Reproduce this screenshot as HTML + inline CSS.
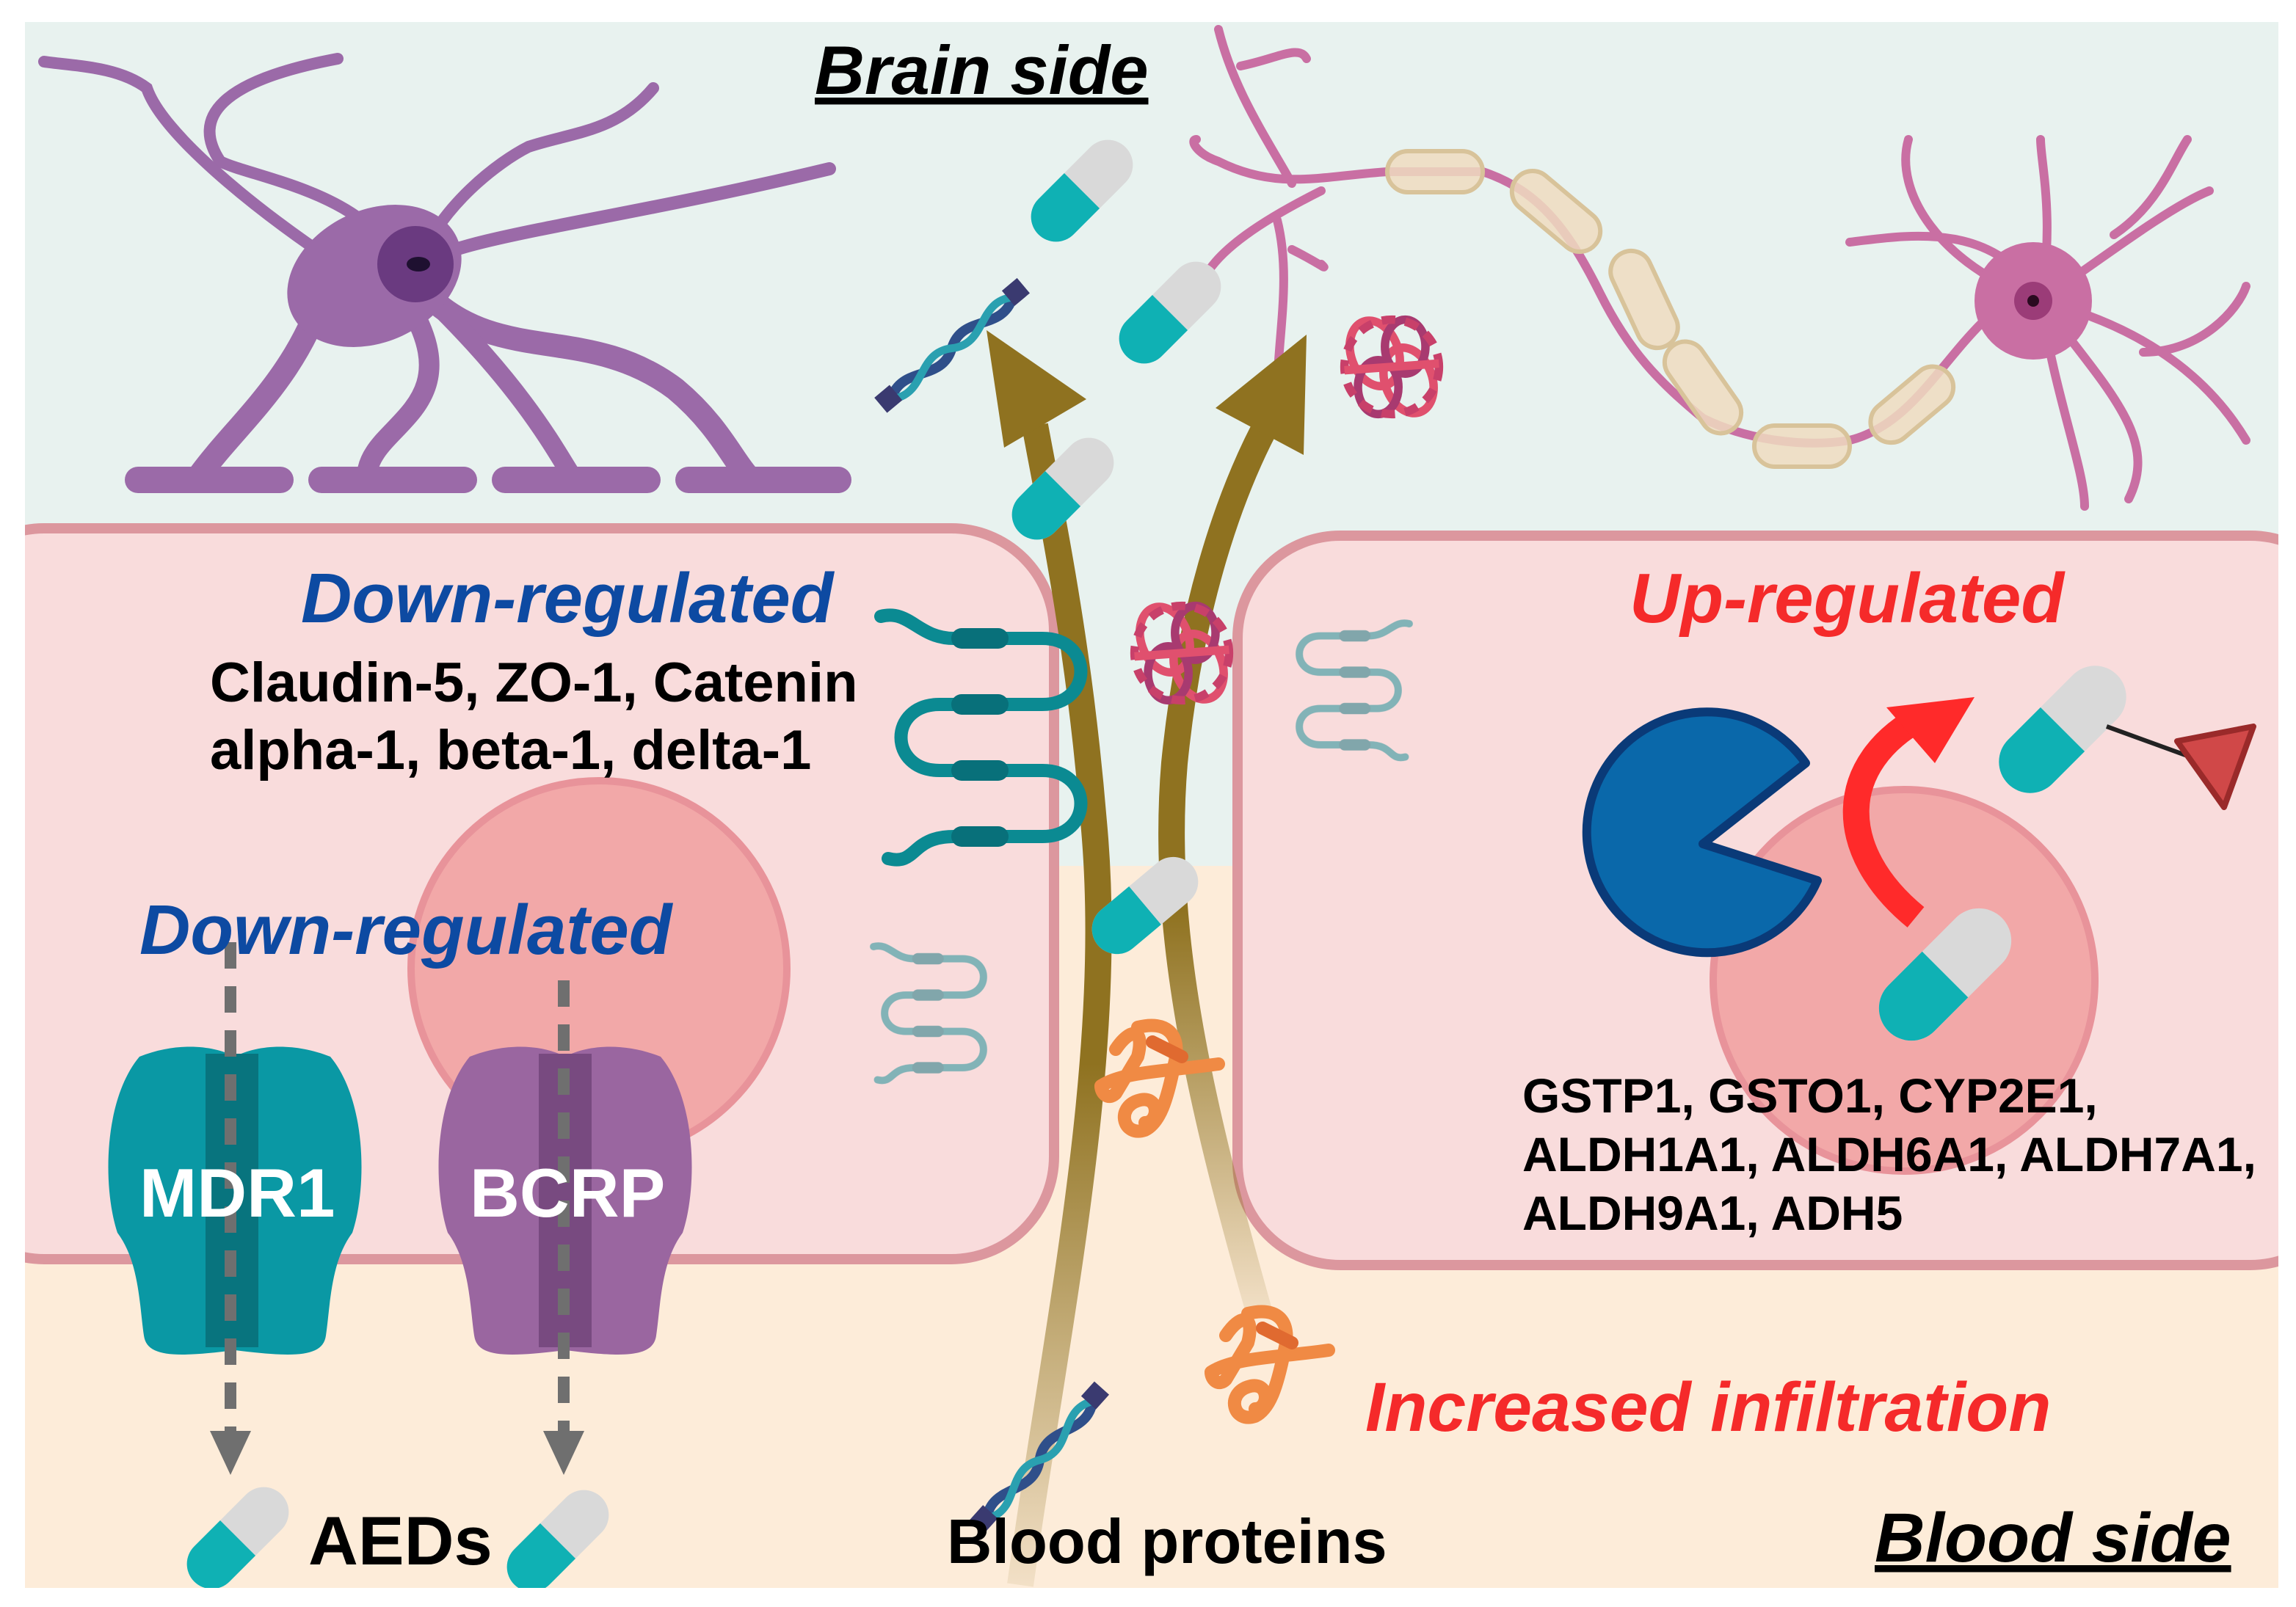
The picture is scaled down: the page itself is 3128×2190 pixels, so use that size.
<!DOCTYPE html>
<html><head><meta charset="utf-8"><style>html,body{margin:0;padding:0;background:#fff}svg{display:block}text{font-family:"Liberation Sans",sans-serif;font-weight:bold}</style></head><body>
<svg width="3128" height="2190" viewBox="0 0 1564 1095" xmlns="http://www.w3.org/2000/svg">
<defs>
<linearGradient id="fade" x1="0" y1="0" x2="0" y2="1"><stop offset="0.55" stop-color="#8f7220"/><stop offset="1" stop-color="#8f7220" stop-opacity="0.1"/></linearGradient>
<g id="pill"><rect x="-42" y="-17" width="84" height="34" rx="17" fill="#d9d9d9"/><path d="M0,-17 H-25 A17,17 0 0 0 -25,17 H0 Z" fill="#0fb1b4"/></g>
<g id="tj" fill="none" stroke="#0b8a92" stroke-width="9" stroke-linecap="round"><path d="M0,0 C20,-5 25,15 50,15 H110 C145,15 145,60 110,60 H40 C5,60 5,105 40,105 H110 C145,105 145,150 110,150 H50 C20,150 25,170 5,165"/><g stroke="#08707a" stroke-width="14"><line x1="55" y1="15" x2="80" y2="15"/><line x1="55" y1="60" x2="80" y2="60"/><line x1="55" y1="105" x2="80" y2="105"/><line x1="55" y1="150" x2="80" y2="150"/></g></g>
<g id="ball" fill="none" stroke-width="5"><ellipse cx="-10" cy="-8" rx="14" ry="20" stroke="#e0506e" transform="rotate(-20 -10 -8)"/><ellipse cx="10" cy="8" rx="14" ry="20" stroke="#e0506e" transform="rotate(-20 10 8)"/><ellipse cx="8" cy="-12" rx="12" ry="16" stroke="#a83a70"/><ellipse cx="-8" cy="12" rx="12" ry="16" stroke="#a83a70"/><circle r="28" stroke="#c8406a" stroke-dasharray="8,6"/><line x1="-28" y1="2" x2="28" y2="-2" stroke="#e0506e"/></g>
<g id="tangle" fill="none" stroke="#f08a44" stroke-width="9" stroke-linecap="round" stroke-linejoin="round"><path d="M-10,-35 C10,-40 20,-30 15,-10 C10,15 5,30 -5,35 C-20,40 -25,20 -10,15 C5,10 5,30 -5,30"/><path d="M-35,5 C-20,-5 10,-5 45,-10"/><path d="M-25,-20 C-15,-35 -5,-35 -10,-15 L-25,10 C-30,15 -35,10 -35,5"/><path d="M0,-25 L20,-15" stroke="#e06a30"/></g>
<g id="dna" fill="none" stroke-linecap="round"><path d="M0,0 C15,-10 25,10 40,0 C55,-10 65,10 80,0" stroke="#2f4f8a" stroke-width="5"/><path d="M0,0 C15,10 25,-10 40,0 C55,10 65,-10 80,0" stroke="#2aa0b0" stroke-width="4"/><rect x="-6" y="-6" width="10" height="10" fill="#3a3a70"/><rect x="78" y="-6" width="10" height="10" fill="#3a3a70"/></g>
</defs>
<rect width="1564" height="1095" fill="#fff"/>
<rect x="17" y="15" width="1535" height="578" fill="#e8f2ef"/>
<rect x="17" y="590" width="1535" height="492" fill="#fdecd9"/>
<rect x="-40" y="360" width="758" height="498" rx="70" fill="#f9dcdc" stroke="#dc979e" stroke-width="7"/>
<rect x="843" y="365" width="760" height="497" rx="70" fill="#f9dcdc" stroke="#dc979e" stroke-width="7"/>
<circle cx="408" cy="660" r="128" fill="#f2a8a8" stroke="#e8939a" stroke-width="5"/>
<circle cx="1297" cy="668" r="130" fill="#f2a8a8" stroke="#e8939a" stroke-width="5"/>
<g fill="none" stroke="#9b6aa8" stroke-linecap="round">
<path d="M285,180 C320,160 420,150 565,115" stroke-width="9"/>
<path d="M285,180 C300,140 340,110 360,100 C390,90 420,90 445,60" stroke-width="8"/>
<path d="M265,170 C240,130 170,120 150,110 C130,80 150,55 230,40" stroke-width="8"/>
<path d="M230,180 C170,140 110,90 100,60 C80,45 50,45 30,42" stroke-width="8"/>
<path d="M220,200 C200,260 160,290 135,325" stroke-width="16"/>
<path d="M290,200 C340,250 400,220 460,265 C490,290 500,315 510,325" stroke-width="16"/>
<path d="M280,210 C320,280 250,290 250,325" stroke-width="14"/>
<path d="M300,210 C360,270 380,310 390,325" stroke-width="13"/>
</g>
<ellipse cx="255" cy="188" rx="62" ry="45" fill="#9b6aa8" transform="rotate(-25 255 188)"/>
<g fill="#9b6aa8"><rect x="85" y="318" width="115" height="18" rx="9"/><rect x="210" y="318" width="115" height="18" rx="9"/><rect x="335" y="318" width="115" height="18" rx="9"/><rect x="460" y="318" width="120" height="18" rx="9"/></g>
<circle cx="283" cy="180" r="26" fill="#6a3a80"/><ellipse cx="285" cy="180" rx="8" ry="5" fill="#1e1030"/>
<g fill="none" stroke="#c96fa3" stroke-width="6" stroke-linecap="round">
<path d="M945,117 L1010,117 C1050,130 1070,160 1090,200 C1110,240 1130,260 1160,285 C1190,300 1230,305 1260,300 C1300,290 1320,250 1350,220"/>
<path d="M945,117 C900,120 870,130 830,110 M880,125 C860,90 840,60 830,20 M900,130 C860,150 830,170 820,190 M870,150 C880,190 870,230 870,270 M880,170 C900,180 905,185 900,180 M845,45 C870,40 885,30 890,40 M830,110 C815,105 810,95 815,95"/>
<path d="M1390,205 C1360,150 1300,160 1260,165 M1390,205 C1400,150 1390,110 1390,95 M1390,205 C1440,170 1480,140 1505,130 M1390,205 C1450,220 1500,250 1530,300 M1390,205 C1440,270 1470,300 1450,340 M1390,205 C1400,270 1420,320 1420,345 M1390,205 C1320,180 1290,130 1300,95 M1440,160 C1470,140 1480,110 1490,95 M1460,240 C1500,240 1525,210 1530,195"/>
</g>
<circle cx="1385" cy="205" r="40" fill="#c96fa3"/><circle cx="1385" cy="205" r="13" fill="#9b3c78"/><circle cx="1385" cy="205" r="4" fill="#2a0a20"/>
<g fill="#eedcbf" fill-opacity="0.85" stroke="#d8c39a" stroke-width="3">
<rect x="945" y="103" width="65" height="28" rx="14"/>
<rect x="1025" y="130" width="70" height="28" rx="14" transform="rotate(40 1060 144)"/>
<rect x="1085" y="190" width="70" height="28" rx="14" transform="rotate(65 1120 204)"/>
<rect x="1125" y="250" width="70" height="28" rx="14" transform="rotate(55 1160 264)"/>
<rect x="1195" y="290" width="65" height="28" rx="14"/>
<rect x="1270" y="262" width="65" height="28" rx="14" transform="rotate(-40 1302 276)"/>
</g>
<path d="M695,1080 C720,900 760,720 745,560 C735,440 718,360 705,290" fill="none" stroke="url(#fade)" stroke-width="18"/>
<path d="M858,895 C820,760 790,640 800,520 C810,420 835,340 865,285" fill="none" stroke="url(#fade)" stroke-width="18"/>
<polygon points="672,225 740,272 684,305" fill="#8f7220"/>
<polygon points="890,228 888,310 828,278" fill="#8f7220"/>
<use href="#tj" x="600" y="420"/>
<use href="#tj" transform="translate(1830,560) scale(-1,1)"/>
<g opacity="0.5"><use href="#tj" transform="translate(595,645) scale(0.55)"/><use href="#tj" transform="translate(960,425) scale(-0.55,0.55)"/></g>
<use href="#pill" transform="translate(737,130) rotate(-45)"/>
<use href="#pill" transform="translate(797,213) rotate(-45)"/>
<use href="#pill" transform="translate(724,333) rotate(-45)"/>
<use href="#pill" transform="translate(780,617) rotate(-40)"/>
<use href="#pill" transform="translate(1405,497) rotate(-45) scale(1.25)"/>
<use href="#pill" transform="translate(1325,664) rotate(-45) scale(1.3)"/>
<use href="#pill" transform="translate(162,1048) rotate(-45)"/>
<use href="#pill" transform="translate(380,1050) rotate(-45)"/>
<use href="#ball" transform="translate(948,250) scale(1.15)"/>
<use href="#ball" transform="translate(805,445) scale(1.15)"/>
<use href="#tangle" transform="translate(785,735)"/>
<use href="#tangle" transform="translate(860,930)"/>
<use href="#dna" transform="translate(607,272) rotate(-40) scale(1.35)"/>
<use href="#dna" transform="translate(672,1035) rotate(-48) scale(1.35)"/>
<path d="M1238,600 A82,82 0 1 1 1230,520 L1160,575 Z" fill="#0a68aa" stroke="#0a3a78" stroke-width="6" stroke-linejoin="round"/>
<path d="M1305,625 C1250,580 1250,520 1310,488" fill="none" stroke="#ff2a2a" stroke-width="18"/>
<polygon points="1345,475 1285,482 1318,520" fill="#ff2a2a"/>
<line x1="1435" y1="495" x2="1490" y2="515" stroke="#222" stroke-width="3"/>
<polygon points="1483,505 1535,495 1515,550" fill="#d04848" stroke="#9a2a2a" stroke-width="4" stroke-linejoin="round"/>
<path d="M95,720 C120,710 145,712 160,720 C175,712 200,710 225,720 C250,750 250,810 240,840 C225,860 225,890 222,910 C220,925 200,925 160,920 C120,925 100,925 98,910 C95,890 95,860 80,840 C70,810 70,750 95,720 Z" fill="#0a98a4"/>
<rect x="140" y="718" width="36" height="200" fill="#08747e"/>
<path d="M320,720 C345,710 370,712 385,720 C400,712 425,710 450,720 C475,750 475,810 465,840 C450,860 450,890 447,910 C445,925 425,925 385,920 C345,925 325,925 323,910 C320,890 320,860 305,840 C295,810 295,750 320,720 Z" fill="#9a66a0"/>
<rect x="367" y="718" width="36" height="200" fill="#784a80"/>
<g stroke="#6f6f6f" stroke-width="8" stroke-dasharray="18,12"><line x1="157" y1="642" x2="157" y2="975"/><line x1="384" y1="668" x2="384" y2="975"/></g>
<polygon points="143,975 171,975 157,1005" fill="#6f6f6f"/><polygon points="370,975 398,975 384,1005" fill="#6f6f6f"/>
<text x="555" y="64" font-size="47" font-style="italic" text-decoration="underline">Brain side</text>
<text x="205" y="424" font-size="48" font-style="italic" fill="#0d4aa2">Down-regulated</text>
<text x="143" y="478" font-size="38">Claudin-5, ZO-1, Catenin</text>
<text x="143" y="524" font-size="38">alpha-1, beta-1, delta-1</text>
<text x="95" y="650" font-size="48" font-style="italic" fill="#0d4aa2">Down-regulated</text>
<text x="95" y="829" font-size="47" fill="#fff">MDR1</text>
<text x="320" y="829" font-size="47" fill="#fff">BCRP</text>
<text x="1110" y="424" font-size="48" font-style="italic" fill="#f52a2a">Up-regulated</text>
<text x="1037" y="758" font-size="33">GSTP1, GSTO1, CYP2E1,</text>
<text x="1037" y="798" font-size="33">ALDH1A1, ALDH6A1, ALDH7A1,</text>
<text x="1037" y="838" font-size="33">ALDH9A1, ADH5</text>
<text x="930" y="975" font-size="47.5" font-style="italic" fill="#f52a2a">Increased infiltration</text>
<text x="210" y="1066" font-size="47">AEDs</text>
<text x="645" y="1065" font-size="42.5">Blood proteins</text>
<text x="1277" y="1064" font-size="47.5" font-style="italic" text-decoration="underline">Blood side</text>
<rect x="0" y="0" width="17" height="1095" fill="#fff"/><rect x="1552" y="0" width="12" height="1095" fill="#fff"/><rect x="0" y="1082" width="1564" height="13" fill="#fff"/><rect x="0" y="0" width="1564" height="15" fill="#fff"/>
</svg>
</body></html>
